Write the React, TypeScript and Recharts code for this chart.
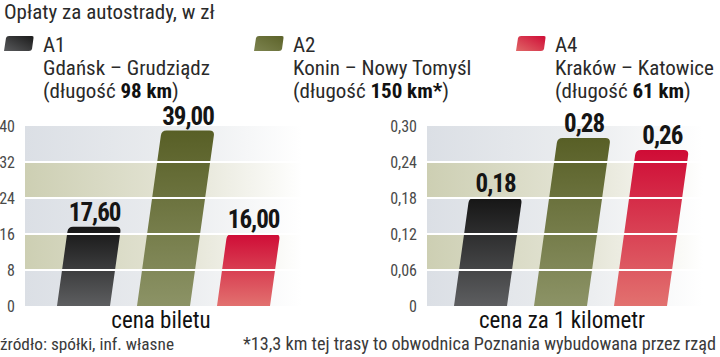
import * as React from "react";
import { Bar, BarChart, CartesianGrid, Cell, LabelList, ReferenceLine, XAxis, YAxis } from "recharts";

const routes = ["A1", "A2", "A4"];
const ticketPrice = [17.6, 39.0, 16.0];
const pricePerKm = [0.18, 0.28, 0.26];
const ticketTicks = [0, 8, 16, 24, 32, 40];
const kmTicks = [0, 0.06, 0.12, 0.18, 0.24, 0.3];
const legendNames = ["Gdańsk – Grudziądz", "Konin – Nowy Tomyśl", "Kraków – Katowice"];
const legendLengths = ["98 km", "150 km*", "61 km"];

const barGrads = ["gDark", "gOlive", "gRed"];
const SLANT = 0.14;
const NARROW = "'Liberation Sans Narrow', 'Roboto Condensed', 'Liberation Sans', sans-serif";

const comma = (v: number, d: number) => (v === 0 ? "0" : v.toFixed(d).replace(".", ","));

/* ---------- slanted bar with rounded top ---------- */
function SlantBar(props: any) {
  const { x, y, width: w, height: h, fill } = props;
  if (!h || h <= 0) return null;
  const r = 5;
  const k = SLANT;
  const d = [
    `M ${x} ${y + h}`,
    `L ${x + k * (h - r)} ${y + r}`,
    `Q ${x + k * h} ${y} ${x + k * h + r} ${y}`,
    `L ${x + w + k * h - r} ${y}`,
    `Q ${x + w + k * h} ${y} ${x + w + k * (h - r)} ${y + r}`,
    `L ${x + w} ${y + h}`,
    "Z",
  ].join(" ");
  return <path d={d} fill={fill} />;
}

function valueLabel(digits: number) {
  return (props: any) => {
    const vb = props.viewBox || {};
    const x = props.x ?? vb.x;
    const y = props.y ?? vb.y;
    const w = props.width ?? vb.width;
    const h = props.height ?? vb.height;
    const cx = x + w / 2 + SLANT * h;
    return (
      <text
        x={cx}
        y={y - 6}
        textAnchor="middle"
        fontFamily={NARROW}
        fontWeight="bold"
        fontSize={25}
        letterSpacing={-1}
        fill="#151515"
      >
        {comma(Number(props.value), digits)}
      </text>
    );
  };
}

function Defs() {
  return (
    <defs>
      <linearGradient id="gDark" x1="0" y1="0" x2="0" y2="1">
        <stop offset="0%" stopColor="#161616" />
        <stop offset="100%" stopColor="#5d5e60" />
      </linearGradient>
      <linearGradient id="gOlive" x1="0" y1="0" x2="0" y2="1">
        <stop offset="0%" stopColor="#585f26" />
        <stop offset="100%" stopColor="#8c9366" />
      </linearGradient>
      <linearGradient id="gRed" x1="0" y1="0" x2="0" y2="1">
        <stop offset="0%" stopColor="#cf0c36" />
        <stop offset="100%" stopColor="#e2716f" />
      </linearGradient>
      <linearGradient id="bgBlue" x1="0" y1="0" x2="1" y2="0">
        <stop offset="0%" stopColor="#dbdfe5" />
        <stop offset="60%" stopColor="#eceef0" />
        <stop offset="100%" stopColor="#ffffff" />
      </linearGradient>
      <linearGradient id="bgOlive" x1="0" y1="0" x2="1" y2="0">
        <stop offset="0%" stopColor="#cdcfb3" />
        <stop offset="60%" stopColor="#e6e6d8" />
        <stop offset="100%" stopColor="#ffffff" />
      </linearGradient>
    </defs>
  );
}

function PriceChart({
  values,
  ticks,
  digits,
  tickDigits,
  yWidth,
  width,
  padding,
}: {
  values: number[];
  ticks: number[];
  digits: number;
  tickDigits: number;
  yWidth: number;
  width: number;
  padding: { left: number; right: number };
}) {
  const data = routes.map((r, i) => ({ route: r, value: values[i] }));
  const max = ticks[ticks.length - 1];
  return (
    <BarChart width={width} height={357} data={data} margin={{ top: 126, right: 8, left: 0, bottom: 51 }} barSize={53}>
      <Defs />
      <CartesianGrid vertical={false} stroke="none" horizontalFill={["url(#bgBlue)", "url(#bgOlive)"]} fillOpacity={1} />
      <XAxis
        dataKey="route"
        height={0}
        tick={false}
        tickLine={false}
        axisLine={{ stroke: "#111", strokeWidth: 2 }}
        padding={padding}
      />
      <YAxis
        width={yWidth}
        domain={[0, max]}
        ticks={ticks}
        axisLine={false}
        tickLine={false}
        tickMargin={4}
        tick={{ fontFamily: NARROW, fontSize: 16, fill: "#4a4a4a" }}
        tickFormatter={(v: number) => comma(v, tickDigits)}
      />
      <Bar dataKey="value" shape={<SlantBar />} isAnimationActive={false}>
        {data.map((d, i) => (
          <Cell key={d.route} fill={`url(#${barGrads[i]})`} />
        ))}
        <LabelList dataKey="value" content={valueLabel(digits)} />
      </Bar>
      {ticks.slice(1, -1).map((t) => (
        <ReferenceLine key={t} y={t} stroke="#ffffff" strokeWidth={2} />
      ))}
    </BarChart>
  );
}

function Swatch({ x, id }: { x: number; id: string }) {
  return (
    <path
      d={`M ${x + 3} 51 L ${x + 5} 38 Q ${x + 5.5} 36 ${x + 8} 36 L ${x + 31} 36 Q ${x + 33} 36 ${x + 32.5} 38 L ${x + 31} 49 Q ${x + 30.5} 51 ${x + 28} 51 Z`}
      fill={`url(#${id})`}
    />
  );
}

export default function App() {
  const legendX = [43, 293, 555];
  const swatchX = [1, 251, 513];
  return (
    <div style={{ position: "absolute", left: 0, top: 0, width: 720, height: 357, background: "#fff", overflow: "hidden" }}>
      <div style={{ position: "absolute", left: 0, top: 0 }}>
        <PriceChart values={ticketPrice} ticks={ticketTicks} digits={2} tickDigits={0} yWidth={25} width={310} padding={{ left: 18, right: 19 }} />
      </div>
      <div style={{ position: "absolute", left: 360, top: 0 }}>
        <PriceChart values={pricePerKm} ticks={kmTicks} digits={2} tickDigits={2} yWidth={67} width={351} padding={{ left: 13, right: 23 }} />
      </div>
      <svg width={720} height={357} style={{ position: "absolute", left: 0, top: 0, pointerEvents: "none" }}>
        <defs>
          <linearGradient id="sDark" x1="0" y1="1" x2="1" y2="0">
            <stop offset="0%" stopColor="#5a5b5d" />
            <stop offset="100%" stopColor="#1a1a1a" />
          </linearGradient>
          <linearGradient id="sOlive" x1="0" y1="1" x2="1" y2="0">
            <stop offset="0%" stopColor="#7d8450" />
            <stop offset="100%" stopColor="#5c6229" />
          </linearGradient>
          <linearGradient id="sRed" x1="0" y1="1" x2="1" y2="0">
            <stop offset="0%" stopColor="#e06868" />
            <stop offset="100%" stopColor="#cf0c36" />
          </linearGradient>
        </defs>
        <text x={4} y={19} fontFamily={NARROW} fontSize={21} fill="#2a2a2a">
          Opłaty za autostrady, w zł
        </text>
        {routes.map((r, i) => (
          <g key={r}>
            <Swatch x={swatchX[i]} id={["sDark", "sOlive", "sRed"][i]} />
            <text x={legendX[i]} y={52} fontFamily={NARROW} fontSize={21} fill="#2a2a2a">
              {r}
            </text>
            <text x={legendX[i]} y={75} fontFamily={NARROW} fontSize={21} fill="#2a2a2a">
              {legendNames[i]}
            </text>
            <text x={legendX[i]} y={98} fontFamily={NARROW} fontSize={21} fill="#2a2a2a">
              (długość <tspan fontWeight="bold" fill="#111">{legendLengths[i]}</tspan>)
            </text>
          </g>
        ))}
        <text x={161} y={328} textAnchor="middle" fontFamily={NARROW} fontSize={23} fill="#111">
          cena biletu
        </text>
        <text x={562} y={328} textAnchor="middle" fontFamily={NARROW} fontSize={23} fill="#111">
          cena za 1 kilometr
        </text>
        <text x={0} y={350} fontFamily={NARROW} fontSize={17.3} fill="#3a3a3a">
          źródło: spółki, inf. własne
        </text>
        <text x={716} y={350} textAnchor="end" fontFamily={NARROW} fontSize={18.2} fill="#3a3a3a">
          *13,3 km tej trasy to obwodnica Poznania wybudowana przez rząd
        </text>
      </svg>
    </div>
  );
}
